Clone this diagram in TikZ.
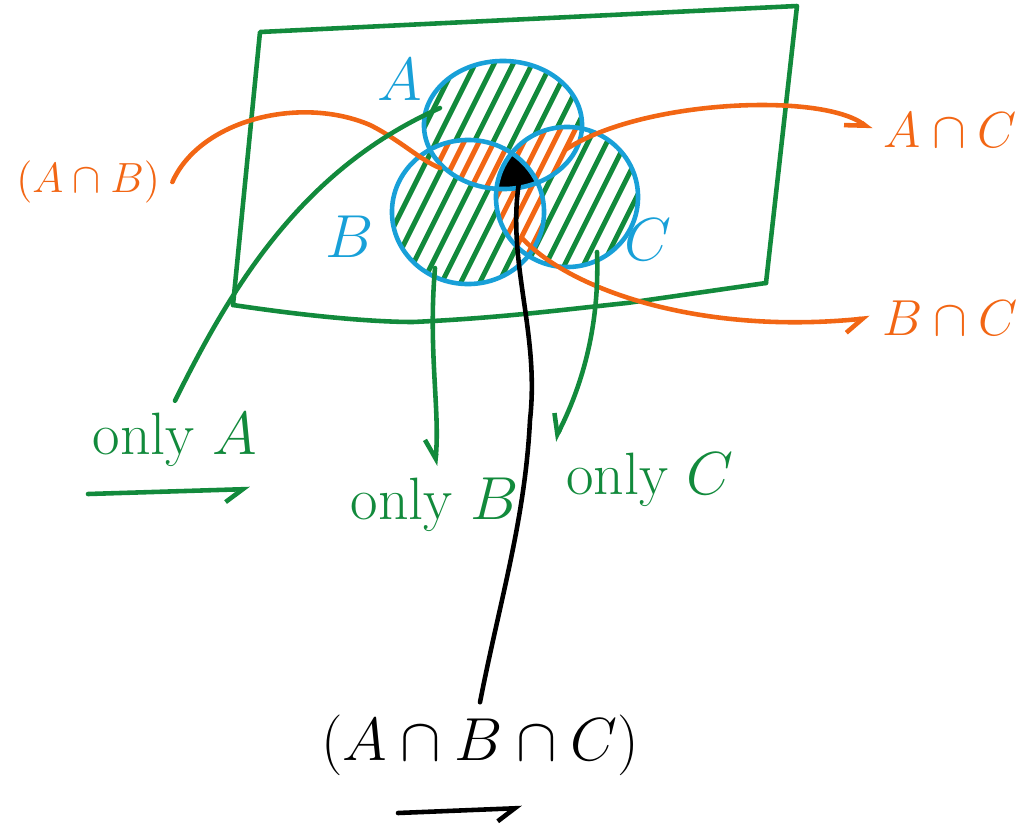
\documentclass[tikz,border=0pt]{standalone}
\usepackage{amsmath}
\usepackage{amssymb}
\usepackage{tikz}
\usetikzlibrary{calc,arrows.meta}
\definecolor{pengreen}{RGB}{18,138,60}
\definecolor{penorange}{RGB}{242,102,20}
\definecolor{penblue}{RGB}{24,160,216}
% hatching: style, first x, step, count
\newcommand{\hatchfill}[4]{\foreach \k in {0,...,#4}{\draw[#1] (#2+\k*#3,310) -- ++(150,-300);}}

\begin{document}
\begin{tikzpicture}[x=0.01cm,y=-0.01cm,
  pen/.style={line width=1.3pt, line cap=round, line join=round},
  hatchline/.style={line width=1.4pt, line cap=round},
  tip/.style={-{Straight Barb[right,length=5pt,width=7pt]}},
  setlabel/.style={penblue, font=\fontsize{18}{20}\selectfont},
  onlylabel/.style={pengreen, font=\fontsize{17}{20}\selectfont}]
\useasboundingbox (0,0) rectangle (1017,827);

% universal set
\draw[pen, pengreen] (233,305) -- (260,32) -- (797,6) -- (766,283);
\draw[pen, pengreen] (233,305) .. controls (320,318) and (380,322) .. (413,322)
  .. controls (500,318) and (560,310) .. (627,303) -- (766,283);

\coordinate (cA) at (503,125);
\coordinate (cB) at (468,212);
\coordinate (cC) at (567,197);

% only A, only B, only C
\begin{scope}
\clip (cA) ellipse [x radius=0.79cm, y radius=0.64cm];
\hatchfill{hatchline,pengreen}{200}{19}{30}
\end{scope}
\begin{scope}
\clip (cB) ellipse [x radius=0.76cm, y radius=0.72cm];
\hatchfill{hatchline,pengreen}{200}{19}{30}
\end{scope}
\begin{scope}
\clip (cC) ellipse [x radius=0.71cm, y radius=0.70cm];
\hatchfill{hatchline,pengreen}{200}{19}{30}
\end{scope}

% two at a time
\begin{scope}
\clip (cA) ellipse [x radius=0.79cm, y radius=0.64cm];
\clip (cB) ellipse [x radius=0.76cm, y radius=0.72cm];
\fill[white] (300,0) rectangle (700,320);
\hatchfill{hatchline,penorange}{200}{15}{40}
\end{scope}
\begin{scope}
\clip (cA) ellipse [x radius=0.79cm, y radius=0.64cm];
\clip (cC) ellipse [x radius=0.71cm, y radius=0.70cm];
\fill[white] (300,0) rectangle (700,320);
\hatchfill{hatchline,penorange}{200}{15}{40}
\end{scope}
\begin{scope}
\clip (cB) ellipse [x radius=0.76cm, y radius=0.72cm];
\clip (cC) ellipse [x radius=0.71cm, y radius=0.70cm];
\fill[white] (300,0) rectangle (700,320);
\hatchfill{hatchline,penorange}{200}{15}{40}
\end{scope}

% all three
\begin{scope}
\clip (cA) ellipse [x radius=0.79cm, y radius=0.64cm];
\clip (cB) ellipse [x radius=0.76cm, y radius=0.72cm];
\clip (cC) ellipse [x radius=0.71cm, y radius=0.70cm];
\fill[white] (300,0) rectangle (700,320);
\hatchfill{hatchline,black}{300}{5}{70}
\end{scope}

\draw[pen, penblue] (cA) ellipse [x radius=0.79cm, y radius=0.64cm];
\draw[pen, penblue] (cB) ellipse [x radius=0.76cm, y radius=0.72cm];
\draw[pen, penblue] (cC) ellipse [x radius=0.71cm, y radius=0.70cm];

\node[setlabel] (nA) at (400,80) {$A$};
\node[setlabel] (nB) at (350,237) {$B$};
\node[setlabel] (nC) at (648,240) {$C$};

% labels
\node[penorange, font=\fontsize{12}{14}\selectfont, anchor=west] (labAB) at (4,182) {$(A\cap B)$};
\node[penorange, font=\fontsize{14}{16}\selectfont] (labAC) at (950,130) {$A\cap C$};
\node[penorange, font=\fontsize{14}{16}\selectfont] (labBC) at (950,318) {$B\cap C$};
\node[onlylabel] (labA) at (175,440) {only $A$};
\node[onlylabel] (labB) at (435,505) {only $B$};
\node[onlylabel] (labC) at (650,480) {only $C$};
\node[font=\fontsize{17}{20}\selectfont] (labABC) at (480,745) {$(A\cap B\cap C)$};

\coordinate (pAB) at (440,168);
\coordinate (pAC) at (565,150);
\coordinate (pBC) at (522,238);
\coordinate (pABC) at (520,176);
\coordinate (pA) at (440,108);
\coordinate (pB) at (435,268);
\coordinate (pC) at (597,252);

% connectors
\draw[pen, penorange] (labAB.east) .. controls (200,120) and (300,95) .. (370,125)
  .. controls (400,140) and (420,160) .. (pAB);
\draw[pen, penorange, tip] (pAC) .. controls (640,100) and (820,92) .. (labAC.west);
\draw[pen, penorange, tip] (pBC) .. controls (570,290) and (700,335) .. (labBC.west);
\draw[pen, black] (pABC) .. controls (505,260) and (540,330) .. (530,420)
  .. controls (525,520) and (500,600) .. (labABC.north);
\draw[pen, pengreen] (labA.north) .. controls (230,290) and (300,170) .. (pA);
\draw[pen, pengreen, tip] (pB) .. controls (428,350) and (440,410) .. (labB.north);
\draw[pen, pengreen, tip] (pC) .. controls (600,330) and (580,390) .. (labC.north west);

% underlines
\draw[pen, pengreen, tip] (88,494) -- (250,489);
\draw[pen, black, tip] (398,813) -- (522,808);
\end{tikzpicture}
\end{document}
